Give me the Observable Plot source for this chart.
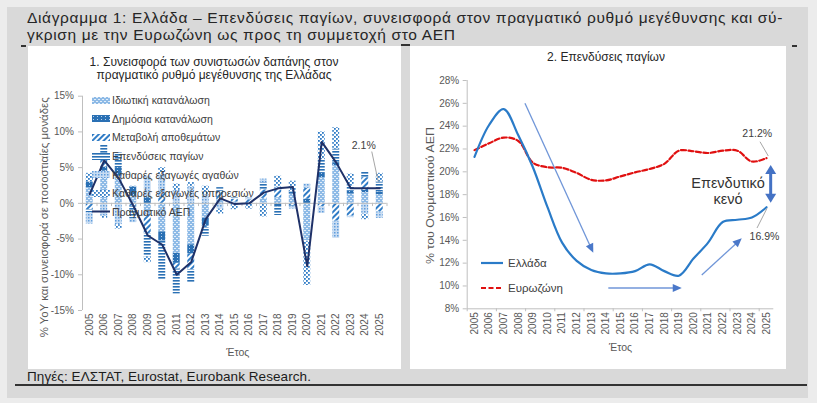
<!DOCTYPE html>
<html lang="el">
<head>
<meta charset="utf-8">
<script src="https://cdn.jsdelivr.net/npm/d3@7"></script>
<script src="https://cdn.jsdelivr.net/npm/@observablehq/plot@0.6"></script>
<style>
  html, body { margin: 0; padding: 0; }
  body { width: 817px; height: 403px; background: #ececec; position: relative; overflow: hidden;
         font-family: "Liberation Sans", Arial, sans-serif; }
  .abs { position: absolute; }
  #frame { left: 7px; top: 7px; width: 801px; height: 391px; background: #d9d9d9; }
  #title { left: 27px; top: 10px; font-size: 15.5px; line-height: 16.5px; color: #262626; white-space: nowrap; }
  #title span { display: block; }
  .panel { background: #fff; top: 46px; height: 323px; }
  #left { left: 28px; width: 373px; }
  #right { left: 410px; width: 376px; }
  .panel svg { position: absolute; left: 0; top: 0; }
  .ptitle { font-size: 12px; line-height: 13.2px; color: #262626; text-align: center; white-space: nowrap; transform: translateX(-50%); }
  #source { left: 27px; top: 368.5px; font-size: 13.5px; color: #1c1c1c; white-space: nowrap; }
  #rule { left: 15px; top: 384px; width: 792px; height: 1.5px; background: #333; }
  .mark { height: 1.5px; background: #333; }
  .leg { position: absolute; display: flex; align-items: center; font-size: 10.5px; color: #404040; white-space: nowrap; }
  .leg svg { position: static; margin-right: 2px; }
</style>
</head>
<body>
<svg width="0" height="0" style="position:absolute">
  <defs>
    <pattern id="pat0" width="4" height="4" patternUnits="userSpaceOnUse">
      <rect width="4" height="4" fill="#8dbae6"/>
      <rect x="0" y="0" width="2" height="1" fill="#e3eefa"/>
      <rect x="2" y="2" width="2" height="1" fill="#e3eefa"/>
    </pattern>
    <pattern id="pat1" width="4" height="3" patternUnits="userSpaceOnUse">
      <rect width="4" height="3" fill="#2a70b4"/>
      <rect x="1" y="1" width="1" height="1" fill="#b9d2ec"/>
    </pattern>
    <pattern id="pat2" width="4" height="4" patternUnits="userSpaceOnUse" patternTransform="rotate(45)">
      <rect width="4" height="4" fill="#fff"/>
      <rect width="2" height="4" fill="#307cc6"/>
    </pattern>
    <pattern id="pat3" width="4" height="3" patternUnits="userSpaceOnUse">
      <rect width="4" height="3" fill="#fff"/>
      <rect width="4" height="1.6" fill="#2a70b4"/>
    </pattern>
    <pattern id="pat4" width="3" height="3" patternUnits="userSpaceOnUse">
      <rect width="3" height="3" fill="#c8dcf2"/>
      <rect width="1.5" height="1.5" fill="#5e9cdc"/>
    </pattern>
    <pattern id="pat5" width="4" height="4" patternUnits="userSpaceOnUse">
      <rect width="4" height="4" fill="#fff"/>
      <rect x="0" y="0" width="1.8" height="1.8" fill="#307cc6"/>
      <rect x="2" y="2" width="1.8" height="1.8" fill="#307cc6"/>
    </pattern>
  </defs>
</svg>

<div id="frame" class="abs"></div>
<div id="title" class="abs"><span id="title1">Διάγραμμα 1: Ελλάδα – Επενδύσεις παγίων, συνεισφορά στον πραγματικό ρυθμό μεγέθυνσης και σύ-</span><span id="title2">γκριση με την Ευρωζώνη ως προς τη συμμετοχή στο ΑΕΠ</span></div>
<div class="abs mark" style="left:21px;top:45px;width:5px"></div>
<div class="abs mark" style="left:401px;top:44px;width:9px"></div>
<div class="abs mark" style="left:792px;top:45px;width:5px"></div>
<div id="left" class="abs panel"></div>
<div id="right" class="abs panel"></div>
<div id="source" class="abs">Πηγές: ΕΛΣΤΑΤ, Eurostat, Eurobank Research.</div>
<div id="rule" class="abs"></div>

<script>
// ---- Data ---------------------------------------------------------------
const years = [2005, 2006, 2007, 2008, 2009, 2010, 2011, 2012, 2013, 2014, 2015,
               2016, 2017, 2018, 2019, 2020, 2021, 2022, 2023, 2024, 2025];

const componentNames = [
  "Ιδιωτική κατανάλωση",
  "Δημόσια κατανάλωση",
  "Μεταβολή αποθεμάτων",
  "Επενδύσεις παγίων",
  "Καθαρές εξαγωγές αγαθών",
  "Καθαρές εξαγωγές υπηρεσιών"
];
const gdpName = "Πραγματικό ΑΕΠ";

// contributions to real GDP growth, percentage points
const privateConsumption = [2.2, 4.5, 3.8, 1.0, -1.5, -4.0, -7.0, -5.8, -2.1, 0.5, 0.2, 0.0, 0.7, 0.8, 1.3, -5.2, 3.6, 5.3, 1.3, 1.5, 1.2];
const publicConsumption  = [0.8, 0.6, 1.2, 1.3, 0.8, -1.3, -1.4, -1.3, -1.1, -0.2, 0.0, 0.0, 0.0, -0.5, 0.3, 0.6, 0.7, 0.4, 0.4, 0.3, 0.4];
const inventoryChange    = [-0.9, 1.0, 0.0, -0.4, -2.8, 1.5, -0.8, -2.2, -0.2, 1.2, 0.4, 0.5, 1.2, 1.1, -0.3, 1.5, -0.5, -2.5, -1.8, 1.8, -1.2];
const fixedInvestment    = [-0.4, 2.0, 2.1, -1.8, -3.2, -5.5, -3.5, -1.8, -1.2, 0.5, 0.2, -0.1, 1.0, -1.2, -0.1, -0.1, 1.8, 1.9, 0.7, 0.8, 1.4];
const netGoods           = [-1.6, -1.8, -3.0, -0.5, 3.0, 2.5, 1.8, 2.3, 1.2, -0.6, -0.1, 0.3, 0.5, 0.4, -0.4, 0.6, -0.9, -2.4, -0.2, -1.5, -0.9];
const netServices        = [1.2, -0.3, -0.6, 0.1, -0.8, 1.0, 0.9, 0.6, 1.2, -0.7, -0.8, -0.7, -1.9, 1.5, 1.5, -6.2, 3.9, 3.0, 1.7, -0.8, 1.2];
// real GDP, % YoY
const realGdp = [1.3, 6.0, 3.5, -0.3, -4.5, -5.8, -10.0, -8.2, -2.2, 0.7, -0.1, 0.0, 1.5, 2.1, 2.3, -8.8, 8.6, 5.7, 2.1, 2.1, 2.1];

// gross fixed capital formation, % of nominal GDP
const investGreece   = [21.3, 24.1, 25.5, 23.2, 20.4, 16.9, 13.8, 12.2, 11.4, 11.1, 11.1, 11.3, 11.9, 11.3, 10.9, 12.4, 13.8, 15.6, 15.8, 16.0, 16.9];
const investEurozone = [21.9, 22.5, 23.0, 22.7, 20.8, 20.4, 20.35, 19.9, 19.3, 19.25, 19.6, 19.95, 20.25, 20.7, 21.85, 21.8, 21.65, 21.85, 21.85, 20.9, 21.2];
const lineNames = ["Ελλάδα", "Ευρωζώνη"];

const leftTicks = [-15, -10, -5, 0, 5, 10, 15];
const rightTicks = [8, 10, 12, 14, 16, 18, 20, 22, 24, 26, 28];

// ---- Styling -------------------------------------------------------------
const FONT = getComputedStyle(document.body).fontFamily;
const AXIS = "#bfbfbf";
const TICKTEXT = "#595959";
const NAVY = "#1f3168";
const BLUE = "#2a7bc8";
const RED = "#e01010";
const patternUrls = componentNames.map((_, k) => `url(#pat${k})`);

const leftYTitle = "% YoY και συνεισφορά σε ποσοστιαίες μονάδες";
const rightYTitle = "% του Ονομαστικού ΑΕΠ";

// ---- Left panel: contributions to growth ----------------------------------
const componentValues = [privateConsumption, publicConsumption, inventoryChange, fixedInvestment, netGoods, netServices];
const contributions = componentNames.flatMap((name, k) =>
  years.map((year, i) => ({year, name, value: componentValues[k][i]})));
const gdpRows = years.map((year, i) => ({year, value: realGdp[i]}));
const lastGdp = gdpRows[gdpRows.length - 1];
const halfBar = 0.24;
const categoryEdges = [years[0] - 0.5, ...years.map(y => y + 0.5)];

const left = Plot.plot({
  width: 373, height: 323,
  marginTop: 49.7, marginRight: 14.5, marginBottom: 59, marginLeft: 54,
  style: {fontFamily: FONT, fontSize: "10px", background: "transparent", overflow: "visible"},
  x: {domain: [years[0] - 0.5, years[years.length - 1] + 0.5], label: null},
  y: {domain: [-15, 15], label: null},
  color: {domain: componentNames, range: patternUrls},
  marks: [
    Plot.ruleX([years[0] - 0.5], {y1: -15, y2: 15, stroke: AXIS}),
    Plot.axisY({ticks: leftTicks, tickFormat: d => `${d}%`, tickSize: 4, tickPadding: 4.5,
                stroke: AXIS, color: TICKTEXT, label: null}),
    Plot.rectY(contributions, {x1: d => d.year - halfBar, x2: d => d.year + halfBar, y: "value", fill: "name"}),
    Plot.ruleY([0], {stroke: AXIS}),
    Plot.ruleX(categoryEdges, {x: d => d, y1: 0, y2: -0.45, stroke: AXIS}),
    Plot.line(gdpRows, {x: "year", y: "value", stroke: NAVY, strokeWidth: 2}),
    Plot.axisX({ticks: years, tickFormat: d => String(d), tickRotate: -90, tickSize: 0, tickPadding: 3,
                color: TICKTEXT, label: null}),
    Plot.text([lastGdp], {x: "year", y: "value", text: d => `${d.value.toFixed(1)}%`,
                          dx: -16, dy: -43, fill: "#404040", fontSize: 10.5}),
    Plot.text([leftYTitle], {text: d => d, frameAnchor: "left", textAnchor: "middle", lineAnchor: "middle",
                rotate: -90, dx: -38, dy: 14, fill: TICKTEXT, fontSize: 10}),
    Plot.text(["Έτος"], {text: d => d, frameAnchor: "bottom", lineAnchor: "middle", dx: 3, dy: 42,
                fill: TICKTEXT, fontSize: 10.5})
  ]
});
document.getElementById("left").append(left);

// ---- Right panel: investment as a share of GDP ---------------------------
const greeceRows = years.map((year, i) => ({year, value: investGreece[i]}));
const euroRows = years.map((year, i) => ({year, value: investEurozone[i]}));
const lastGreece = greeceRows[greeceRows.length - 1];
const lastEuro = euroRows[euroRows.length - 1];
const everyOtherEdge = categoryEdges.filter((_, i) => i % 2 === 0 && i < categoryEdges.length - 1);

const right = Plot.plot({
  width: 376, height: 323,
  marginTop: 34, marginRight: 12.7, marginBottom: 60.7, marginLeft: 56.7,
  style: {fontFamily: FONT, fontSize: "10px", background: "transparent", overflow: "visible"},
  x: {domain: [years[0] - 0.5, years[years.length - 1] + 0.5], label: null},
  y: {domain: [8, 28], label: null},
  marks: [
    Plot.ruleX([years[0] - 0.5], {y1: 8, y2: 28, stroke: AXIS}),
    Plot.ruleY([8], {stroke: AXIS}),
    Plot.ruleX(everyOtherEdge, {x: d => d, y1: 8, y2: 7.74, stroke: AXIS}),
    Plot.axisY({ticks: rightTicks, tickFormat: d => `${d}%`, tickSize: 4, tickPadding: 4,
                stroke: AXIS, color: TICKTEXT, label: null}),
    Plot.axisX({ticks: years, tickFormat: d => String(d), tickRotate: -90, tickSize: 0, tickPadding: 3.4,
                color: TICKTEXT, label: null}),
    Plot.line(euroRows, {x: "year", y: "value", stroke: RED,
                strokeWidth: 2.2, strokeDasharray: "5,2.5", curve: "catmull-rom"}),
    Plot.line(greeceRows, {x: "year", y: "value", stroke: BLUE,
                strokeWidth: 2.2, curve: "catmull-rom"}),
    Plot.text([lastEuro], {x: "year", y: "value", text: d => `${d.value.toFixed(1)}%`,
                           dx: -9.3, dy: -24.3, fill: "#404040", fontSize: 10.5}),
    Plot.text([lastGreece], {x: "year", y: "value", text: d => `${d.value.toFixed(1)}%`,
                             dx: -2, dy: 29.3, fill: "#404040", fontSize: 10.5}),
    Plot.text(["Επενδυτικό\nκενό"], {text: d => d, x: 2022.36, y: 18.3, fill: "#333", fontSize: 14.5, lineHeight: 1.05}),
    Plot.text([rightYTitle], {text: d => d, frameAnchor: "left", textAnchor: "middle", lineAnchor: "middle",
                rotate: -90, dx: -36.7, dy: 0.9, fill: TICKTEXT, fontSize: 11.5}),
    Plot.text(["Έτος"], {text: d => d, frameAnchor: "bottom", lineAnchor: "middle", dy: 38.7,
                fill: TICKTEXT, fontSize: 10.5})
  ]
});
document.getElementById("right").append(right);

// stretch or squeeze the rotated axis titles to their allotted length
function setLength(chart, label, length) {
  d3.select(chart).selectAll("text")
    .filter(function () { return this.textContent === label; })
    .attr("textLength", length).attr("lengthAdjust", "spacingAndGlyphs");
}
setLength(left, leftYTitle, 240);
setLength(right, rightYTitle, 137);

// ---- Annotation overlays drawn with the charts' scales -------------------
function overlay(chart) {
  const sx = chart.scale("x"), sy = chart.scale("y");
  return {g: d3.select(chart).append("g"), X: v => sx.apply(v), Y: v => sy.apply(v)};
}

function leader(o, pt, from, to) {
  const px = o.X(pt.year), py = o.Y(pt.value);
  o.g.append("line")
    .attr("x1", px + from[0]).attr("y1", py + from[1])
    .attr("x2", px + to[0]).attr("y2", py + to[1])
    .attr("stroke", "#a6a6a6").attr("stroke-width", 1);
}

function arrow(o, a, {width = 1.3, color = "#7096d8", headColor = "#4a78c9", headLen = 9, headWidth = 8, both = false} = {}) {
  const x1 = o.X(a.x1), y1 = o.Y(a.y1), x2 = o.X(a.x2), y2 = o.Y(a.y2);
  const L = Math.hypot(x2 - x1, y2 - y1), ux = (x2 - x1) / L, uy = (y2 - y1) / L;
  const head = (tx, ty, vx, vy) => {
    const bx = tx - vx * headLen, by = ty - vy * headLen;
    const nx = -vy * headWidth / 2, ny = vx * headWidth / 2;
    o.g.append("path")
      .attr("d", `M${tx},${ty}L${bx + nx},${by + ny}L${bx - nx},${by - ny}Z`)
      .attr("fill", headColor);
  };
  const sx = both ? x1 + ux * headLen * 0.8 : x1, sy = both ? y1 + uy * headLen * 0.8 : y1;
  o.g.append("line")
    .attr("x1", sx).attr("y1", sy)
    .attr("x2", x2 - ux * headLen * 0.8).attr("y2", y2 - uy * headLen * 0.8)
    .attr("stroke", color).attr("stroke-width", width);
  head(x2, y2, ux, uy);
  if (both) head(x1, y1, -ux, -uy);
}

const oL = overlay(left);
leader(oL, lastGdp, [-7.5, -36.3], [-1, -6.3]);

const oR = overlay(right);
leader(oR, lastEuro, [-6, -15.9], [2.3, -1.6]);
leader(oR, lastGreece, [1, 1.6], [-9, 21.3]);

// trend arrows (in year / % of GDP units)
const trendArrows = [
  {x1: 2008.49, y1: 25.96, x2: 2013.17, y2: 12.87},
  {x1: 2014.2, y1: 9.78, x2: 2019.23, y2: 9.78},
  {x1: 2020.6, y1: 10.92, x2: 2023.34, y2: 14.13}
];
trendArrows.forEach(a => arrow(oR, a));
arrow(oR, {x1: 2025.32, y1: 20.55, x2: 2025.32, y2: 17.25},
      {width: 3, color: "#4472c4", headColor: "#4472c4", headLen: 9, headWidth: 11, both: true});

// ---- Panel titles and legends -------------------------------------------
function addDiv(parent, cls, style, html) {
  const d = document.createElement("div");
  d.className = cls; d.setAttribute("style", style); d.innerHTML = html;
  document.getElementById(parent).append(d);
  return d;
}
addDiv("left", "abs ptitle", "left:186px;top:10.2px", "1. Συνεισφορά των συνιστωσών δαπάνης στον<br>πραγματικό ρυθμό μεγέθυνσης της Ελλάδας");
addDiv("right", "abs ptitle", "left:196px;top:5.4px", "2. Επενδύσεις παγίων");

const legendTops = [54, 72.5, 91.2, 110, 128.8, 147.3, 165.5];
componentNames.forEach((name, k) => {
  addDiv("left", "leg", `left:64px;top:${legendTops[k] - 6}px;height:12px`,
    `<svg width="18" height="7"><rect width="18" height="7" fill="url(#pat${k})"/></svg>${name}`);
});
addDiv("left", "leg", `left:64px;top:${legendTops[6] - 6}px;height:12px`,
  `<svg width="18" height="7"><line x1="0" x2="18" y1="3.5" y2="3.5" stroke="${NAVY}" stroke-width="2"/></svg>${gdpName}`);

addDiv("right", "leg", "left:70px;top:210.7px;height:12px;font-size:11.5px",
  `<svg width="24" height="6" style="margin-right:4px"><line x1="1" x2="23" y1="3" y2="3" stroke="${BLUE}" stroke-width="2.2"/></svg>${lineNames[0]}`);
addDiv("right", "leg", "left:70px;top:236.3px;height:12px;font-size:11.5px",
  `<svg width="24" height="6" style="margin-right:4px"><line x1="1" x2="23" y1="3" y2="3" stroke="${RED}" stroke-width="2.2" stroke-dasharray="5,2.5"/></svg>${lineNames[1]}`);

// ---- Spread heading and source lines to their set widths ------------------
function spreadTo(el, target, apply = [el]) {
  const w = el.getBoundingClientRect().width;
  const n = el.textContent.length;
  const ls = (target - w) / n;
  apply.forEach(e => e.style.letterSpacing = `${ls}px`);
}
const t1 = document.getElementById("title1");
t1.style.display = "inline-block";
spreadTo(t1, 756, [t1, document.getElementById("title2")]);
t1.style.display = "block";
spreadTo(document.getElementById("source"), 284);
</script>
</body>
</html>
